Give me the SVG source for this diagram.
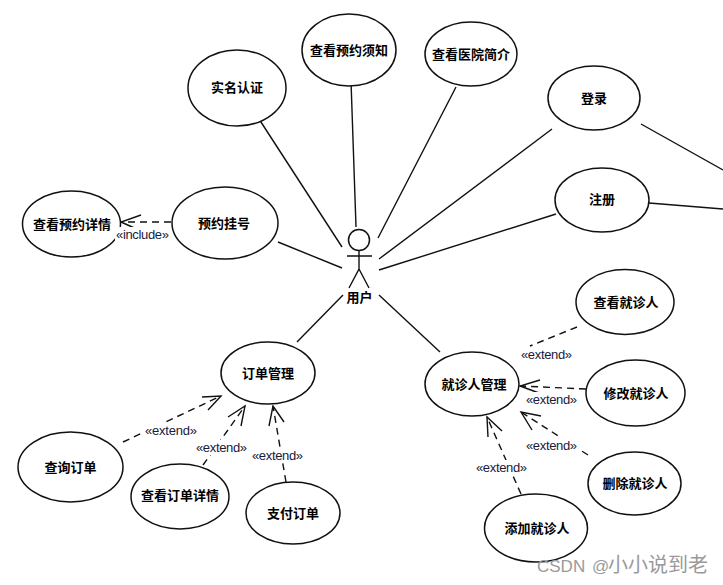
<svg xmlns="http://www.w3.org/2000/svg" width="723" height="585" viewBox="0 0 723 585">
<style>
.u{fill:#fff;stroke:#111;stroke-width:1.5}
.n{font:bold 13px "Noto Sans CJK SC","Liberation Sans",sans-serif;fill:#000;text-anchor:middle}
.c{fill:none;stroke:#111;stroke-width:1.4}
.d{fill:none;stroke:#111;stroke-width:1.4;stroke-dasharray:7 5}
.l{font:13px "Liberation Sans",sans-serif;fill:#1a1a3a}
.b{fill:#fff}
</style>
<rect width="723" height="585" fill="#fff"/>
<g id="connectors">
<path class="c" d="M259 119L342 247M351 81L356 227M456 87L378 238M552 129L379 259M556 214L379 270M278 242L342 268M297 342L343 295M379 295L440 352M641 124L723 170M649 203L723 209"/>
<path class="d" d="M171 222L121 222"/><path class="c" d="M141 215L121 222L141 231"/>
<path class="d" d="M123 442L221 396"/><path class="c" d="M202 397L221 396L208 410"/>
<path class="d" d="M203 465L245 406"/><path class="c" d="M228 417L245 406L241 426"/>
<path class="d" d="M286 482L273 406"/><path class="c" d="M269 426L273 406L284 422"/>
<path class="d" d="M577 327L530 346"/>
<path class="d" d="M586 389L520 386"/><path class="c" d="M540 380L520 386L539 393"/>
<path class="d" d="M588 455L521 412"/><path class="c" d="M541 416L521 412L532 430"/>
<path class="d" d="M521 494L487 417"/><path class="c" d="M502 431L487 417L488 437"/>
</g>
<g id="actor"><circle class="u" cx="359" cy="240" r="10.5"/><path class="c" d="M347 256H372M359 250.500V269L349 288M359 269L369 288"/><text class="n" x="359.500" y="302">用户</text></g>
<g id="n1"><ellipse class="u" cx="237" cy="88" rx="49" ry="38"/><text class="n" x="237" y="92">实名认证</text></g>
<g id="n2"><ellipse class="u" cx="349" cy="50" rx="47" ry="36"/><text class="n" x="349" y="55">查看预约须知</text></g>
<g id="n3"><ellipse class="u" cx="471" cy="54" rx="46" ry="32"/><text class="n" x="471" y="59">查看医院简介</text></g>
<g id="n4"><ellipse class="u" cx="594" cy="98" rx="46" ry="32"/><text class="n" x="594" y="103">登录</text></g>
<g id="n5"><ellipse class="u" cx="602" cy="200" rx="47" ry="32"/><text class="n" x="602" y="204">注册</text></g>
<g id="n6"><ellipse class="u" cx="71.500" cy="224" rx="49" ry="33"/><text class="n" x="72" y="229">查看预约详情</text></g>
<g id="n7"><ellipse class="u" cx="225" cy="223" rx="53" ry="36"/><text class="n" x="224" y="228">预约挂号</text></g>
<g id="n8"><ellipse class="u" cx="268" cy="373" rx="47" ry="31"/><text class="n" x="268" y="378">订单管理</text></g>
<g id="n9"><ellipse class="u" cx="70.500" cy="467" rx="52.500" ry="35"/><text class="n" x="70.500" y="472">查询订单</text></g>
<g id="n10"><ellipse class="u" cx="180" cy="496.500" rx="49" ry="32.500"/><text class="n" x="180" y="500">查看订单详情</text></g>
<g id="n11"><ellipse class="u" cx="293" cy="513" rx="47" ry="31"/><text class="n" x="293" y="518">支付订单</text></g>
<g id="n12"><ellipse class="u" cx="625" cy="302" rx="49" ry="32.500"/><text class="n" x="626" y="307">查看就诊人</text></g>
<g id="n13"><ellipse class="u" cx="472" cy="384" rx="47" ry="32"/><text class="n" x="474" y="389">就诊人管理</text></g>
<g id="n14"><ellipse class="u" cx="635.500" cy="393" rx="49.500" ry="33"/><text class="n" x="636" y="398">修改就诊人</text></g>
<g id="n15"><ellipse class="u" cx="634.500" cy="483.500" rx="46.500" ry="31.500"/><text class="n" x="635" y="488">删除就诊人</text></g>
<g id="n16"><ellipse class="u" cx="536" cy="528" rx="51.500" ry="34"/><text class="n" x="537" y="533">添加就诊人</text></g>
<g id="labels">
<rect class="b" x="115" y="227" width="55" height="15"/><text class="l" x="116" y="239" textLength="53">«include»</text>
<rect class="b" x="144" y="423" width="54" height="15"/><text class="l" x="145" y="435" textLength="52">«extend»</text>
<rect class="b" x="195" y="440" width="53" height="15"/><text class="l" x="196" y="452" textLength="51">«extend»</text>
<rect class="b" x="251" y="448" width="53" height="15"/><text class="l" x="252" y="460" textLength="51">«extend»</text>
<rect class="b" x="520" y="347" width="53" height="15"/><text class="l" x="521" y="359" textLength="51">«extend»</text>
<rect class="b" x="525" y="392" width="53" height="15"/><text class="l" x="526" y="404" textLength="51">«extend»</text>
<rect class="b" x="525" y="438" width="53" height="15"/><text class="l" x="526" y="450" textLength="51">«extend»</text>
<rect class="b" x="475" y="460" width="53" height="15"/><text class="l" x="476" y="472" textLength="51">«extend»</text>
</g>
<text y="572" style="font:17px 'Liberation Sans','Noto Sans CJK SC',sans-serif;fill:#9a9a9a"><tspan x="537">CSDN</tspan><tspan x="592">@</tspan><tspan x="608" style="font-size:20px">小小说到老</tspan></text>
</svg>
